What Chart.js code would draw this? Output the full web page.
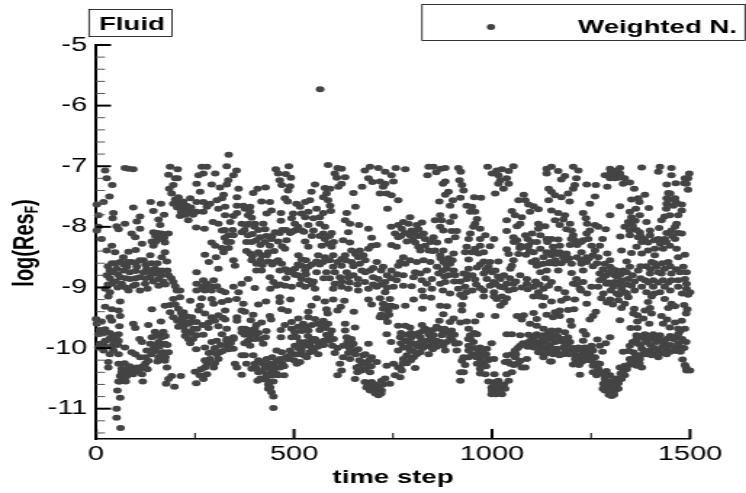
<!DOCTYPE html>
<html>
<head>
<meta charset="utf-8">
<title>Fluid residual</title>
<script src="https://cdn.jsdelivr.net/npm/chart.js@4"></script>
<style>
    html, body { margin: 0; padding: 0; background: #fff; overflow: hidden; }
    /* the reference is a picture stretched sideways, so the whole canvas is too */
    #chart { position: absolute; left: 0; top: 0; transform-origin: 0 0; transform: scale(1.4514, 1); }
</style>
</head>
<body>
<canvas id="chart" width="514" height="493"></canvas>
<script>
const xTicks = [0, 500, 1000, 1500];
const xMinorTicks = [250, 750, 1250];
const yTicks = [-5, -6, -7, -8, -9, -10, -11];
const yMinorTicks = [-5.2, -5.4, -5.6, -5.8, -6.2, -6.4, -6.6, -6.8, -7.2, -7.4, -7.6, -7.8, -8.2, -8.4, -8.6, -8.8, -9.2, -9.4, -9.6, -9.8, -10.2, -10.4, -10.6, -10.8, -11.2, -11.4];

const stepsOutliers = [566, 335];
const resOutliers = [-5.73, -6.81];

// upper left of the plot
const stepsA = [82,73,94,187,206,183,200,206,195,185,191,208,212,229,238,212,233,254,271,238,254,271,263,254,259,271,267,280,301,292,330,355,347,334,330,313,360,356,322,318,305,288,280,309,326,356,372,356,326,347,309,295,339,368,318,334,347,368,330,292,301,322,275,303,285,309,347,351,254,253,274,
23,27,41,34,19,2,6,94,138,164,145,172,44,42,111,103,158,73,52,57,6,2,14,111,90,99,162,145,166,183,158,141,116,174,145,40,27,48,82,100,174,166,137,120,69,61,90,179,35,52,78,103,128,149,166,183,195,27,61,86,111,137,158,40,65,94,124,158,204,23,82,111,212,254,271,280,297,284,254,267,292,347,368,360,326,35];
const resA = [-7.04,-7.03,-7.05,-7.01,-7.05,-7.14,-7.2,-7.2,-7.31,-7.37,-7.45,-7.51,-7.65,-7.65,-7.75,-7.82,-7.89,-7.75,-7.75,-7.53,-7.59,-7.59,-7.42,-7.29,-7.15,-7.12,-7.01,-7.01,-7.12,-7.3,-7,-7.07,-7.15,-7.23,-7.3,-7.35,-7.37,-7.51,-7.47,-7.53,-7.56,-7.62,-7.67,-7.7,-7.67,-7.65,-7.65,-7.77,-7.81,-7.82,-7.95,-7.92,-7.92,-7.95,-8.06,-8.14,-8.14,-8.09,-8.25,-8.26,-8.31,-8.42,-8.46,-8.5,-8.58,-8.69,-8.55,-8.64,-8.75,-8.01,-8.03,
-7.07,-7.2,-7.31,-7.5,-7.59,-7.63,-7.81,-7.68,-7.59,-7.62,-7.74,-7.8,-7.77,-7.86,-7.83,-7.91,-7.88,-7.95,-7.99,-8.04,-8,-8.06,-8.2,-8.03,-8.11,-8.17,-7.97,-8.09,-8.11,-8.11,-8.2,-8.24,-8.28,-8.26,-8.31,-8.31,-8.39,-8.42,-8.41,-8.38,-8.42,-8.5,-8.47,-8.55,-8.5,-8.58,-8.58,-8.57,-8.72,-8.69,-8.66,-8.66,-8.69,-8.69,-8.72,-8.8,-8.91,-8.8,-8.83,-8.86,-8.83,-8.83,-8.86,-8.94,-8.94,-8.97,-8.94,-8.97,-9.05,-9.02,-9.05,-9.05,-9.05,-8.94,-8.88,-8.94,-8.88,-9.02,-9.05,-9.02,-9.05,-8.99,-8.94,-9.08,-9.08,-9.08];

// lower left of the plot
const stepsB = [31,61,23,40,57,61,35,40,0,14,2,59,94,99,132,164,141,23,6,57,44,35,57,23,10,44,73,19,35,57,44,6,110,116,149,170,141,166,137,158,174,145,128,170,183,99,90,111,132,158,174,179,31,31,57,65,82,103,124,61,78,94,116,57,69,118,54,61,52,52,62,191,183,177,214,198,253,271,250,280,275,297,280,288,309,292,313,330,347,347,330,305,292,275,253,351,368,368,356,
195,187,174,187,208,221,195,217,242,254,233,208,221,246,233,233,254,271,284,309,330,318,347,263,259,275,292,309,326,326,356,356,368,368,297,318,334,355,292,267,212,238,368,372];
const resB = [-9.15,-9.23,-9.32,-9.36,-9.38,-9.47,-9.49,-9.55,-9.52,-9.56,-9.6,-9.64,-9.6,-9.67,-9.62,-9.56,-9.36,-9.69,-9.77,-9.77,-9.79,-9.84,-9.88,-9.88,-9.93,-9.9,-9.99,-10.04,-10.1,-10.1,-10.04,-9.99,-9.85,-9.9,-9.73,-9.73,-9.82,-9.82,-9.93,-9.9,-9.93,-10.01,-10.04,-10.07,-10.07,-10.1,-10.07,-10.15,-10.21,-10.15,-10.21,-10.32,-10.23,-10.32,-10.26,-10.34,-10.34,-10.32,-10.32,-10.46,-10.46,-10.43,-10.43,-10.55,-10.54,-10.55,-10.7,-10.82,-11,-11.15,-11.32,-10.46,-10.51,-10.59,-10.46,-10.64,-10.58,-10.51,-10.39,-10.43,-10.32,-10.32,-10.26,-10.18,-10.18,-10.07,-10.07,-9.96,-10.01,-9.85,-9.88,-9.88,-9.9,-9.99,-10.02,-10.26,-10.12,-10.44,-10.32,
-9.19,-9.29,-9.3,-9.41,-9.35,-9.41,-9.49,-9.49,-9.49,-9.57,-9.6,-9.65,-9.65,-9.68,-9.74,-9.85,-9.79,-9.78,-9.67,-9.64,-9.68,-9.77,-9.82,-9.3,-9.38,-9.43,-9.49,-9.46,-9.38,-9.53,-9.49,-9.55,-9.68,-9.74,-9.27,-9.24,-9.21,-9.19,-9.19,-9.18,-9.16,-9.22,-9.38,-9.27];

// upper middle left
const stepsC = [487,454,460,479,492,464,469,490,485,586,610,620,603,608,629,620,612,553,544,578,591,582,574,586,591,540,528,506,515,477,484,439,418,408,397,428,389,376,384,389,443,431,467,467,498,494,519,536,557,593,574,565,549,528,502,650,672,655,633,629,641,664,688,637,696,679,692,713,757,730,746,688,698,717,730,751,725,734,717,746,763,736,745,763,755,763,746,759,
393,380,401,422,427,414,384,393,452,464,443,490,502,519,536,549,565,578,595,574,578,481,528,460,477,439,427,570,586,536,595,557,624,641,696,688,709,666,645,629,620,599,578,561,511,519,389,410,418,431,393,405,435,452,469,485,502,519,536,557,574,599,620,645,662,666,675,709,725,746,763,692,671,650,633,603,582,557,528,502,485,464,439,448,456,477,494,519,536,549,528,401,553,384,405,418,603,616,599,620,637,662,679,700,713,709,730,751,662,637,688,730,759];
const resC = [-7,-7.05,-7.12,-7.13,-7.19,-7.23,-7.31,-7.33,-7.4,-6.98,-7.03,-7.04,-7.12,-7.19,-7.18,-7.29,-7.34,-7.3,-7.42,-7.36,-7.37,-7.45,-7.51,-7.56,-7.65,-7.56,-7.59,-7.62,-7.67,-7.53,-7.58,-7.59,-7.58,-7.37,-7.44,-7.35,-7.67,-7.7,-7.81,-7.75,-7.73,-7.78,-7.77,-7.9,-7.78,-7.86,-7.78,-7.75,-7.7,-7.74,-7.77,-7.84,-7.86,-7.84,-7.95,-7.44,-7.34,-7.67,-7.77,-7.89,-7.95,-7.97,-8.03,-8.09,-8.18,-7.07,-7.01,-7.03,-7.03,-7.09,-7.15,-7.2,-7.26,-7.25,-7.29,-7.25,-7.34,-7.45,-7.45,-7.48,-7.56,-7.7,-8,-7.97,-8.11,-8.17,-8.3,-8.33,
-7.85,-7.97,-7.95,-7.95,-8.04,-8.17,-8.14,-8.25,-8.09,-8.1,-8.2,-8.1,-8.06,-8.06,-7.97,-8.06,-7.95,-8,-8.1,-8.11,-8.2,-8.22,-8.24,-8.24,-8.36,-8.31,-8.25,-8.31,-8.28,-8.33,-8.33,-8.57,-8.22,-8.26,-8.31,-8.36,-8.3,-8.39,-8.39,-8.47,-8.53,-8.47,-8.5,-8.47,-8.47,-8.54,-8.44,-8.42,-8.47,-8.47,-8.55,-8.61,-8.57,-8.58,-8.61,-8.72,-8.69,-8.64,-8.66,-8.58,-8.58,-8.66,-8.64,-8.58,-8.5,-8.61,-8.47,-8.58,-8.66,-8.72,-8.64,-8.72,-8.72,-8.8,-8.75,-8.75,-8.75,-8.75,-8.72,-8.79,-8.75,-8.72,-8.83,-8.91,-8.97,-8.97,-8.99,-8.86,-8.88,-8.9,-8.99,-9.01,-9.02,-8.86,-8.72,-8.72,-8.94,-8.83,-9.02,-8.99,-8.83,-8.86,-8.91,-8.83,-8.86,-8.99,-8.91,-8.99,-9.05,-9.02,-9.02,-9.08,-8.88];

// lower middle left
const stepsD = [410,429,464,464,491,469,484,376,397,439,442,391,418,477,467,467,557,578,599,627,544,582,618,610,651,585,536,511,536,553,494,523,574,586,494,502,536,565,595,582,507,494,553,540,570,528,502,597,603,519,490,540,561,532,485,515,507,629,629,654,633,645,624,650,662,688,650,637,624,641,616,620,610,654,658,671,675,696,709,688,671,692,734,751,763,755,742,721,679,696,692,704,721,713,709,683,
401,380,393,410,427,431,448,460,475,408,448,435,443,448,448,456,469,431,397,376,464,439,376,401,389,384,401,428,422,389,688,696,717,742,725,755,738,717,734,736,763,734,745,763];
const resD = [-9.28,-9.23,-9.16,-9.24,-9.2,-9.36,-9.39,-9.4,-9.45,-9.47,-9.53,-9.54,-9.58,-9.62,-9.7,-9.82,-9.18,-9.23,-9.2,-9.22,-9.3,-9.36,-9.32,-9.38,-9.4,-9.43,-9.4,-9.51,-9.49,-9.52,-9.57,-9.6,-9.55,-9.6,-9.68,-9.74,-9.71,-9.7,-9.71,-9.78,-9.82,-9.82,-9.85,-9.93,-9.95,-9.96,-9.96,-9.96,-10.08,-10.04,-10.04,-10.07,-10.1,-10.15,-10.18,-10.23,-10.26,-9.6,-9.71,-9.66,-9.82,-9.85,-9.96,-9.93,-10.02,-9.93,-10.04,-10.08,-10.15,-10.18,-10.26,-10.37,-10.45,-10.51,-10.32,-10.23,-10.12,-10.15,-10.23,-10.29,-10.37,-10.4,-10.29,-10.26,-10.32,-10.45,-10.59,-10.54,-10.56,-10.56,-10.7,-10.65,-10.7,-10.78,-10.73,-10.65,
-10.26,-10.26,-10.34,-10.4,-10.32,-10.43,-10.37,-10.45,-10.45,-10.54,-10.55,-10.67,-10.73,-10.8,-10.99,-10.04,-10.07,-10.18,-10.12,-10.12,-10.32,-10.26,-9.68,-9.68,-9.77,-9.88,-9.85,-9.82,-9.93,-9.96,-9.2,-9.28,-9.18,-9.19,-9.27,-9.32,-9.38,-9.49,-9.46,-9.57,-9.63,-9.77,-9.9,-10.04];

// upper middle right
const stepsE = [781,840,852,871,882,859,837,915,921,989,1054,1025,1042,1012,1000,1016,1037,1021,1016,1042,1029,1008,1138,1138,882,876,918,924,928,1143,890,882,920,955,972,867,901,894,1143,1080,1084,1067,1092,1105,1117,1096,936,949,945,957,962,957,970,953,1050,1058,1075,1037,1071,1063,1117,1117,1134,1037,
869,856,873,903,894,869,877,898,911,907,890,793,776,789,810,823,772,797,814,793,827,831,852,785,806,814,831,861,819,840,856,869,877,903,945,941,936,932,970,983,970,957,995,1005,979,966,949,1054,1063,1084,1101,1122,1138,1071,1092,1113,1084,1122,1138,1037,1042,1067,1086,1105,
776,768,793,810,827,844,781,861,877,894,903,886,941,979,995,1016,991,1008,962,941,928,907,1054,1050,1046,1101,1113,1130,1138,1122,1071,1088,806,819,835,865,776,802,823,848,835,869,882,957,936,932,915,979,987,1004,1021,1037,1054,995,1021,1042,1088,1105,1130,1143,776,797,823,848,876,979,970,894,1117];
const resE = [-7.05,-7.01,-7.01,-7.04,-7.03,-7.1,-7.15,-7.03,-7.09,-7.01,-7,-7.05,-7.08,-7.07,-7.12,-7.15,-7.2,-7.23,-7.29,-7.29,-7.37,-7.45,-7.04,-7.12,-7.25,-7.29,-7.23,-7.31,-7.4,-7.37,-7.42,-7.47,-7.52,-7.51,-7.52,-7.58,-7.56,-7.65,-7.56,-7.47,-7.56,-7.56,-7.63,-7.66,-7.71,-7.75,-7.65,-7.67,-7.75,-7.75,-7.87,-7.95,-8.03,-8,-7.74,-7.81,-7.84,-7.89,-7.95,-7.99,-7.95,-8.03,-7.99,-8.07,
-7.81,-7.89,-7.89,-7.83,-7.92,-8,-8.06,-8.07,-8.07,-8.17,-8.23,-7.84,-7.92,-7.95,-7.97,-7.93,-8.03,-8.06,-8.04,-8.14,-8.11,-8.2,-8.17,-8.24,-8.26,-8.33,-8.31,-8.26,-8.39,-8.39,-8.39,-8.47,-8.39,-8.44,-8.11,-8.2,-8.33,-8.42,-8.2,-8.14,-8.31,-8.36,-8.32,-8.2,-8.42,-8.44,-8.42,-8.17,-8.22,-8.14,-8.11,-8.14,-8.2,-8.31,-8.31,-8.25,-8.33,-8.36,-8.42,-8.37,-8.45,-8.45,-8.46,-8.42,
-8.5,-8.58,-8.55,-8.58,-8.55,-8.58,-8.61,-8.66,-8.58,-8.61,-8.72,-8.69,-8.54,-8.57,-8.58,-8.57,-8.66,-8.72,-8.67,-8.69,-8.77,-8.8,-8.55,-8.64,-8.69,-8.58,-8.64,-8.61,-8.72,-8.75,-8.8,-8.86,-8.75,-8.77,-8.72,-8.77,-8.8,-8.83,-8.88,-8.86,-8.94,-8.94,-8.91,-8.87,-8.86,-8.99,-9.02,-8.77,-8.86,-8.91,-8.86,-8.94,-8.94,-8.97,-8.99,-9.05,-8.94,-8.99,-9.02,-8.97,-8.97,-8.98,-9.05,-9.02,-9.05,-9.05,-9.01,-9.1,-9.08];

// lower middle right
const stepsF = [802,827,846,781,824,869,886,928,924,924,877,903,894,867,920,936,957,970,1008,1012,1037,1021,979,1105,1132,1128,1063,1080,1075,1105,1113,1138,1096,1113,1130,1143,1037,1050,1071,1092,1113,1130,1143,
781,793,823,831,869,877,898,768,781,797,819,840,852,873,894,907,877,852,831,810,793,776,840,819,882,911,802,776,785,768,772,806,768,
941,962,945,953,941,941,970,987,999,966,928,941,924,932,970,962,979,1005,991,970,983,920,928,920,1006,1037,1050,1042,991,1008,1016,999,1021,1033,999,1025,1012,
1037,1033,1046,1058,1071,1058,1071,1088,1075,1084,1092,1105,1122,1130,1138,1117,1130,1147];
const resF = [-9.2,-9.15,-9.17,-9.3,-9.35,-9.3,-9.31,-9.16,-9.29,-9.38,-9.44,-9.51,-9.57,-9.55,-9.58,-9.56,-9.56,-9.46,-9.47,-9.19,-9.18,-9.3,-9.15,-9.15,-9.16,-9.3,-9.47,-9.46,-9.53,-9.42,-9.52,-9.45,-9.6,-9.63,-9.68,-9.74,-9.77,-9.77,-9.79,-9.78,-9.77,-9.79,-9.82,
-9.63,-9.66,-9.62,-9.68,-9.68,-9.74,-9.71,-9.82,-9.88,-9.82,-9.82,-9.77,-9.79,-9.79,-9.82,-9.93,-9.96,-9.93,-9.96,-9.96,-10.04,-9.99,-10.1,-10.07,-10.04,-10.04,-10.15,-10.18,-10.12,-10.32,-10.37,-10.33,-10.48,
-9.68,-9.77,-9.79,-9.9,-9.96,-10.04,-9.99,-10.01,-9.92,-10.07,-10.15,-10.15,-10.21,-10.28,-10.18,-10.26,-10.26,-10.18,-10.18,-10.34,-10.43,-10.4,-10.4,-10.54,-10.43,-10.43,-10.4,-10.54,-10.55,-10.56,-10.54,-10.65,-10.65,-10.67,-10.76,-10.76,-10.7,
-10.12,-10.23,-10.26,-10.04,-9.96,-10.15,-10.21,-10.18,-10.32,-10.32,-9.9,-9.99,-9.9,-10.1,-10.01,-10.07,-10.15,-10.22];

// upper right
const stepsG = [1150,1167,1205,1218,1184,1175,1213,1209,1205,1239,1262,1291,1150,1159,1175,1192,1196,1260,1247,1298,1323,1378,1424,1453,1420,1285,1306,1323,1298,1319,1335,1331,1348,1359,1453,1464,1441,1498,1487,1491,1495,1386,1369,1352,1372,1445,1441,1462,1441,1458,1479,1323,1396,1363,1348,1373,1352,1298,1230,1237,1240,1479,1470,1436,1449,1428,1390,1344,1335,1466,1462,
1150,1167,1184,1180,1159,1171,1197,1188,1201,1260,1247,1239,1268,1287,1205,1167,1150,1230,1243,1279,1324,1348,1348,1373,1369,1399,1399,1422,1441,1453,1479,1420,1436,1462,1378,1394,1365,1209,1197,1171,1154,1251,1272,1260,1394,1411,1432,1449,1466,1171,1188,1150,1226,1291,1327,1352,1378,1239,1255,1268,1487,1470,1411,
1146,1159,1201,1226,1239,1230,1167,1201,1298,1285,1340,1403,1445,1348,1369,1415,1436,1483,1491,1314,1298,1331,1272,1289,1310,1399,1428,1453,
1213,1230,1205,1222,1251,1272,1268,1289,1310,1327,1344,1352,1306,1327,1386,1407,1432,1453,1487,1491,1378,1407,1436,1470,1491,1150,1167,1184,1424,1390,1335,1500,1281];
const resG = [-7.01,-7.08,-7.01,-7.07,-7.16,-7.22,-7.2,-7.31,-7.37,-7.3,-7.31,-7.34,-7.42,-7.48,-7.51,-7.45,-7.58,-7.5,-7.62,-7.04,-7.03,-7.02,-7.01,-7.03,-7.09,-7.15,-7.09,-7.12,-7.2,-7.19,-7.2,-7.29,-7.27,-7.37,-7.15,-7.28,-7.3,-7.12,-7.2,-7.29,-7.39,-7.47,-7.53,-7.55,-7.59,-7.44,-7.53,-7.53,-7.62,-7.65,-7.63,-7.66,-7.69,-7.7,-7.75,-7.81,-7.84,-7.81,-7.77,-7.86,-7.95,-7.73,-7.81,-7.83,-7.81,-7.89,-7.92,-7.92,-8,-7.95,-8,
-7.73,-7.77,-7.81,-7.88,-7.89,-7.97,-7.95,-8.04,-8.06,-7.97,-8.06,-8.11,-8,-8.04,-8.14,-8.21,-8.2,-8.22,-8.2,-8.2,-8.16,-8.06,-8.14,-8.09,-8.17,-8.06,-8.14,-8.02,-8.1,-8.06,-8.11,-8.2,-8.2,-8.2,-8.25,-8.26,-8.33,-8.22,-8.3,-8.31,-8.33,-8.31,-8.31,-8.39,-8.39,-8.36,-8.36,-8.31,-8.36,-8.42,-8.44,-8.47,-8.42,-8.44,-8.39,-8.43,-8.44,-8.5,-8.47,-8.5,-8.46,-8.5,-8.47,
-8.58,-8.61,-8.61,-8.61,-8.58,-8.72,-8.72,-8.76,-8.55,-8.61,-8.57,-8.58,-8.58,-8.66,-8.72,-8.66,-8.69,-8.66,-8.75,-8.72,-8.66,-8.72,-8.77,-8.8,-8.8,-8.77,-8.77,-8.77,
-8.86,-8.91,-8.94,-9.02,-8.99,-8.88,-8.99,-8.94,-8.91,-8.88,-8.86,-8.97,-8.99,-9.02,-8.88,-8.88,-8.88,-8.88,-8.86,-8.94,-8.99,-8.99,-8.99,-8.99,-9.02,-8.91,-9.02,-9.08,-9.08,-9.08,-9.08,-9.08,-9.1];

// lower right
const stepsH = [1150,1175,1188,1209,1239,1276,1298,1319,1344,1335,1327,1394,1403,1436,1453,1445,1462,1485,1493,1490,1359,1386,1399,1357,1367,1403,1382,1428,1442,1462,1479,1432,1449,1470,1487,1367,1397,1350,1367,1323,1262,1255,1247,1159,1171,1192,1207,1154,1171,1198,1201,
1230,1237,1298,1287,1266,1272,1279,1150,1167,1184,1154,1192,1175,1197,1230,1251,1146,1163,1180,1197,1218,1234,1255,1154,1180,1209,1230,1247,1150,1226,1213,1251,1205,1226,1255,1272,1268,1222,1289,1277,1264,1298,1285,1306,1281,1293,1319,1285,1302,1310,1319,1335,1327,1323,1335,1346,1348,1365,1373,1378,1331,1348,1365,1386,1407,1424,1441,1458,1470,1357,1378,1399,1420,1441,1462,1479,1369,1390,1415,1436,1361,1382,1403,1420,1441,1476,1481,1487,1491,1500,1490];
const resH = [-9.23,-9.22,-9.18,-9.2,-9.27,-9.18,-9.2,-9.21,-9.16,-9.27,-9.34,-9.24,-9.15,-9.19,-9.27,-9.34,-9.31,-9.29,-9.36,-9.43,-9.35,-9.38,-9.34,-9.43,-9.46,-9.43,-9.51,-9.47,-9.53,-9.58,-9.55,-9.6,-9.66,-9.68,-9.68,-9.56,-9.6,-9.67,-9.67,-9.54,-9.4,-9.47,-9.53,-9.41,-9.38,-9.37,-9.36,-9.49,-9.47,-9.55,-9.63,
-9.72,-9.78,-9.82,-9.92,-9.86,-9.96,-10.06,-9.71,-9.71,-9.74,-9.79,-9.82,-9.85,-9.9,-9.88,-9.96,-9.96,-10.01,-9.99,-10.04,-9.99,-9.99,-10.04,-10.1,-10.1,-10.1,-10.07,-10.1,-10.22,-10.18,-10.21,-10.21,-10.27,-10.23,-10.29,-10.26,-10.34,-10.44,-10.38,-10.41,-10.45,-10.45,-10.51,-10.54,-10.59,-10.62,-10.58,-10.7,-10.79,-10.7,-10.67,-10.45,-10.51,-10.32,-10.29,-10.28,-10.18,-10.29,-10.18,-10.32,-10.06,-9.96,-9.79,-9.77,-9.77,-9.79,-9.85,-9.85,-9.77,-10.07,-10.01,-10.04,-10.04,-10.01,-9.99,-9.99,-9.93,-9.9,-9.9,-9.93,-10.15,-10.1,-10.12,-10.15,-10.1,-10.06,-10.19,-10.28,-10.37,-10.37,-10.32];

// dense clusters, first pass left half
const stepsI = [200,210,220,205,220,230,215,225,240,195,245,150,155,165,150,172,
30,40,50,70,80,100,110,125,140,155,40,55,70,85,100,120,135,150,165,180,35,50,75,100,125,145,170,30,55,75,100,130,175,190,200,
270,290,305,315,275,325,340,335,318,345,325,
10,20,35,50,20,40,55,65,72,80,85,95,103,110,118,125,130,70,60,75,
150,160,175,150,160,180,150,165,140,175,155,125,
200,215,230,240,225,205,215,225,240,255,245,238,225,270,285,300,320,
300,315,330,340,335,320,305,285,275,300,265,262];
const resI = [-7.55,-7.6,-7.58,-7.68,-7.7,-7.75,-7.75,-7.8,-7.68,-7.62,-7.8,-8.15,-8.1,-8.2,-8.25,-8.18,
-8.65,-8.6,-8.6,-8.62,-8.58,-8.6,-8.55,-8.62,-8.6,-8.6,-8.75,-8.78,-8.72,-8.75,-8.73,-8.75,-8.75,-8.77,-8.8,-8.72,-8.85,-8.9,-8.85,-8.85,-8.85,-8.9,-8.9,-8.95,-9,-9,-8.95,-9.02,-8.95,-8.85,-8.98,
-8.98,-8.98,-8.98,-9.05,-9.05,-8.18,-8.25,-8.35,-8.35,-8.05,-8.05,
-9.7,-9.75,-9.75,-9.82,-9.95,-9.97,-9.95,-10.4,-10.25,-10.4,-10.3,-10.38,-10.38,-10.35,-10.3,-10.25,-10.35,-10.5,-10.55,-10.55,
-9.8,-9.78,-9.8,-9.95,-9.98,-9.95,-10.05,-10.1,-10.1,-10.15,-10.22,-10.15,
-9.28,-9.42,-9.48,-9.58,-9.57,-9.55,-9.6,-9.72,-9.75,-9.68,-9.85,-9.92,-9.8,-9.62,-9.58,-9.55,-9.5,
-10,-9.95,-9.85,-9.92,-10.02,-10.05,-10.1,-10.08,-10.2,-10.25,-10.35,-10.45];

// dense clusters, middle left
const stepsJ = [400,385,410,375,395,405,380,415,430,445,470,480,495,510,525,545,565,590,600,470,450,435,415,380,395,420,445,460,478,510,530,545,565,590,610,630,655,650,680,700,720,735,745,760,510,495,530,590,620,640,660,680,700,720,735,575,545,515,480,465,440,
405,385,395,375,390,375,400,410,415,430,
410,420,430,440,450,405,420,430,445,415,425,440,455,435,455,465,480,470,445,475,440,
510,520,530,545,560,570,580,590,590,575,560,545,535,515,530,510,520,545,560,575,500,510,525,550,500,490,585,600,610,
635,645,640,655,665,680,690,680,665,660,680,695,705,700,715,725,705,720,690,730,
725,735,745,720,730,740];
const resJ = [-8,-7.95,-8.05,-8.05,-8.12,-8.22,-8.25,-8.3,-8.15,-8.15,-8.05,-8.05,-8.08,-8,-8.08,-8.15,-8.15,-8.15,-8.25,-8.32,-8.4,-8.42,-8.55,-8.4,-8.48,-8.63,-8.62,-8.55,-8.7,-8.62,-8.55,-8.62,-8.62,-8.55,-8.58,-8.55,-8.45,-8.65,-8.55,-8.68,-8.72,-8.8,-8.85,-8.78,-8.8,-8.72,-8.78,-8.85,-8.9,-8.92,-8.95,-8.75,-8.95,-8.95,-9,-8.85,-8.95,-8.95,-8.85,-8.95,-9.02,
-9.62,-9.7,-9.72,-9.78,-9.85,-9.92,-9.8,-9.75,-9.85,-9.72,
-10.2,-10.25,-10.3,-10.35,-10.3,-10.33,-10.38,-10.47,-10.45,-10.5,-10.52,-10.55,-10.42,-10.6,-10.22,-10.18,-10.15,-10.25,-10.15,-10.3,-10.65,
-9.65,-9.72,-9.65,-9.62,-9.6,-9.63,-9.67,-9.77,-9.88,-9.88,-9.9,-9.85,-9.8,-9.9,-9.9,-10,-9.96,-10,-9.98,-9.95,-10.1,-10.1,-10.12,-10.05,-10.2,-10.12,-9.85,-9.85,-10,
-9.9,-9.95,-10,-10.1,-10.2,-10.1,-10.2,-10.25,-10.3,-10.4,-10.35,-10.3,-10.6,-10.68,-10.65,-10.6,-10.75,-10.75,-10.62,-10.5,
-9.35,-9.3,-9.3,-9.45,-9.5,-9.45];

// dense clusters, middle right
const stepsK = [770,785,795,805,815,825,835,850,860,880,890,905,790,800,820,835,845,860,870,885,900,915,770,790,815,840,860,800,810,825,850,785,775,795,
945,955,940,955,975,985,950,960,975,985,970,990,975,
1005,1000,1015,1010,1020,1030,
1050,1060,1065,1078,1090,1100,1110,1115,1125,1135,1145,1130,1100,1105,1065,1040,1055,1120,1140,1120,
780,805,800,770,815,845,850,870,890,885,900,890,875,880,905,920,935,950,970,985,1000,1015,1030,1045,1060,1010,1030,1055,960,950,1075,1090,1110,1120,1135,1070,1110,1120,1145,1130,1095,1140,1055,1090,1100,1005,1025,1030,1005,1120,920,935];
const resK = [-9.75,-9.78,-9.75,-9.78,-9.75,-9.72,-9.7,-9.7,-9.65,-9.68,-9.75,-9.78,-9.9,-9.92,-9.9,-9.88,-9.85,-9.88,-9.9,-9.9,-9.87,-9.92,-9.92,-9.98,-9.98,-9.97,-9.98,-10.05,-10.1,-10,-10.02,-10.25,-10.25,-10.2,
-9.85,-9.75,-9.85,-10,-10.05,-10.1,-10.1,-10.15,-10.25,-10.3,-10.42,-10.2,-10.12,
-10.6,-10.7,-10.62,-10.76,-10.72,-10.6,
-10.1,-10.1,-10,-9.92,-9.98,-9.85,-9.9,-9.95,-9.98,-9.9,-9.95,-9.85,-9.95,-9.82,-10.25,-10.22,-10.28,-9.8,-10.08,-10.05,
-8.1,-8.1,-8.2,-8.15,-8.15,-8.25,-8.4,-8.52,-8.52,-8.62,-8.55,-8.8,-8.72,-8.82,-8.9,-8.9,-8.78,-8.8,-8.62,-8.7,-8.75,-8.82,-8.8,-8.85,-8.9,-8.95,-9,-9.03,-8.95,-9.05,-9,-9.03,-8.9,-8.95,-8.85,-8.35,-8.55,-8.62,-8.6,-8.5,-8.4,-8.25,-8.25,-8.2,-8.25,-9.15,-9.15,-9.25,-9.08,-9.15,-9.12,-9.08];

// dense clusters, right
const stepsL = [1345,1355,1365,1375,1385,1395,1405,1415,1430,1450,1465,1475,1480,1490,1485,1375,1385,1400,1410,1430,1450,1470,1465,1450,1430,1410,1390,1370,1360,1350,1372,1340,1330,1325,
1150,1160,1170,1180,1190,1165,1185,1205,1215,1225,1240,1245,1225,1240,1235,1260,1265,1150,1165,1185,1195,1170,1210,1220,1215,1255,1270,1285,1295,1290,1300,1280,1310,1315,1308,1295,
1155,1165,1180,1195,1160,1175,1185,1215,1225,1245,1255,1265,1280,1295,1305,1315,1325,1340,1355,1375,1390,1400,1410,1420,1430,1450,1465,1475,1280,1295,1320,1340,1360,1375,1395,1420,1445,1470,1215,1225,1240,1300,1315,1360,1410,1450,1480,1495,1290,1305,1320,1340,
1305,1315,1310,1325,1300,1362,1355,1365,1375,1385,1410,1425,1440,1455,1470,1440,1455,1450,1465,1495,1485,1200,1215,1225];
const resL = [-10.05,-9.9,-9.85,-9.8,-9.85,-9.8,-9.85,-9.82,-9.88,-9.8,-9.82,-9.72,-9.85,-9.9,-10,-9.95,-10.05,-9.95,-10,-9.98,-9.95,-9.92,-10.05,-10.06,-10.08,-10.1,-10.1,-10.12,-10.22,-10.25,-10.25,-10.35,-10.4,-10.42,
-9.85,-9.9,-9.88,-9.9,-9.95,-9.8,-9.85,-10,-10.02,-10.03,-10,-10.04,-10.12,-10.15,-10.2,-10.15,-10.25,-10.05,-10.08,-10.05,-10.1,-10.12,-10.18,-10.28,-10.25,-10.4,-10.4,-10.45,-10.55,-10.7,-10.65,-10.67,-10.6,-10.5,-10.77,-10.77,
-8.4,-8.45,-8.5,-8.52,-8.55,-8.6,-8.55,-8.5,-8.55,-8.52,-8.65,-8.6,-8.7,-8.75,-8.7,-8.82,-8.78,-8.75,-8.8,-8.65,-8.65,-8.7,-8.6,-8.75,-8.6,-8.65,-8.7,-8.75,-8.85,-8.92,-8.95,-8.95,-8.9,-8.85,-8.92,-8.92,-8.92,-8.88,-8.95,-9.05,-9.1,-9.05,-9.1,-9.05,-9.1,-9.05,-9.1,-9.12,-9.25,-9.28,-9.12,-9.1,
-7.15,-7.07,-7.2,-7.17,-7.1,-7.9,-7.98,-8.05,-8.15,-8.2,-8.22,-8.28,-8.25,-8.15,-8.1,-7.7,-7.55,-7.45,-7.6,-7.2,-7.28,-8.2,-8.3,-8.25];

const steps = [].concat(stepsOutliers, stepsA, stepsB, stepsC, stepsD, stepsE, stepsF, stepsG, stepsH, stepsI, stepsJ, stepsK, stepsL);
const residuals = [].concat(resOutliers, resA, resB, resC, resD, resE, resF, resG, resH, resI, resJ, resK, resL);

const stretch = 746 / 514;
const dotColor = '#444444';

// inward ticks, the two label boxes and the subscripted y title
const decorations = {
    id: 'decorations',
    afterDraw(chart) {
        const ctx = chart.ctx;
        const xs = chart.scales.x;
        const ys = chart.scales.y;
        ctx.save();

        ctx.strokeStyle = '#000';
        ctx.lineWidth = 2;
        yTicks.forEach(v => line(ctx, xs.left, ys.getPixelForValue(v), xs.left + 15 / stretch, ys.getPixelForValue(v)));
        xTicks.forEach(v => line(ctx, xs.getPixelForValue(v), ys.bottom, xs.getPixelForValue(v), ys.bottom - 10));
        ctx.lineWidth = 1;
        xMinorTicks.forEach(v => line(ctx, xs.getPixelForValue(v), ys.bottom, xs.getPixelForValue(v), ys.bottom - 6));
        ctx.strokeStyle = '#555';
        yMinorTicks.forEach(v => line(ctx, xs.left, ys.getPixelForValue(v), xs.left + 9 / stretch, ys.getPixelForValue(v)));

        ctx.strokeStyle = '#000';
        ctx.lineWidth = 0.8;
        ctx.strokeRect(89 / stretch, 9.5, 83 / stretch, 27);
        ctx.strokeRect(422 / stretch, 4.5, 323 / stretch, 36);

        ctx.fillStyle = '#000';
        ctx.font = 'bold 19px "Liberation Sans"';
        ctx.textBaseline = 'alphabetic';
        ctx.textAlign = 'left';
        ctx.fillText('Fluid', 99 / stretch, 30);
        ctx.textAlign = 'right';
        ctx.fillText('Weighted N.', 737 / stretch, 33);

        ctx.fillStyle = dotColor;
        ctx.beginPath();
        ctx.arc(491 / stretch, 27, 2.9, 0, Math.PI * 2);
        ctx.fill();

        // y title, written bottom to top
        ctx.translate(33 / stretch, 243);
        ctx.rotate(-Math.PI / 2);
        ctx.fillStyle = '#000';
        ctx.textAlign = 'left';
        const bold = 'bold 20px "Liberation Sans"';
        const small = 'bold 12px "Liberation Sans"';
        ctx.font = bold;
        const w1 = ctx.measureText('log(Res').width;
        const w3 = ctx.measureText(')').width;
        ctx.font = small;
        const w2 = ctx.measureText('F').width;
        const start = -(w1 + w2 + w3) / 2;
        ctx.font = bold;
        ctx.fillText('log(Res', start, 0);
        ctx.fillText(')', start + w1 + w2, 0);
        ctx.font = small;
        ctx.fillText('F', start + w1, 3);

        ctx.restore();
    }
};

function line(ctx, x1, y1, x2, y2) {
    ctx.beginPath();
    ctx.moveTo(x1, y1);
    ctx.lineTo(x2, y2);
    ctx.stroke();
}

new Chart(document.getElementById('chart'), {
    type: 'scatter',
    data: {
        datasets: [{
            label: 'Weighted N.',
            data: steps.map((s, i) => ({ x: s, y: residuals[i] })),
            pointRadius: 3,
            pointBackgroundColor: dotColor,
            pointBorderWidth: 0,
            clip: false
        }]
    },
    options: {
        responsive: false,
        animation: false,
        events: [],
        layout: { padding: { top: 45, right: 514 - 690 / stretch } },
        plugins: { legend: { display: false }, tooltip: { enabled: false } },
        scales: {
            x: {
                type: 'linear',
                min: 0,
                max: 1500,
                afterBuildTicks: axis => { axis.ticks = xTicks.map(v => ({ value: v })); },
                afterFit: axis => { axis.height = 54; },
                grid: { display: false, drawTicks: false },
                border: { display: true, color: '#000', width: 1.5 },
                ticks: {
                    autoSkip: false,
                    maxRotation: 0,
                    padding: 3,
                    color: '#000',
                    font: { family: '"Liberation Sans"', size: 20 },
                    callback: v => String(v)
                },
                title: {
                    display: true,
                    text: 'time step',
                    color: '#000',
                    font: { family: '"Liberation Sans"', size: 19, weight: 'bold' },
                    padding: { top: 0, bottom: 3.6 }
                }
            },
            y: {
                type: 'linear',
                min: -11.5,
                max: -5,
                afterBuildTicks: axis => { axis.ticks = yTicks.map(v => ({ value: v })); },
                afterFit: axis => { axis.width = 96 / stretch; },
                grid: { display: false, drawTicks: false },
                border: { display: true, color: '#000', width: 2 },
                ticks: {
                    autoSkip: false,
                    padding: 6,
                    color: '#000',
                    font: { family: '"Liberation Sans"', size: 20 },
                    callback: v => String(v)
                }
            }
        }
    },
    plugins: [decorations]
});
</script>
</body>
</html>
